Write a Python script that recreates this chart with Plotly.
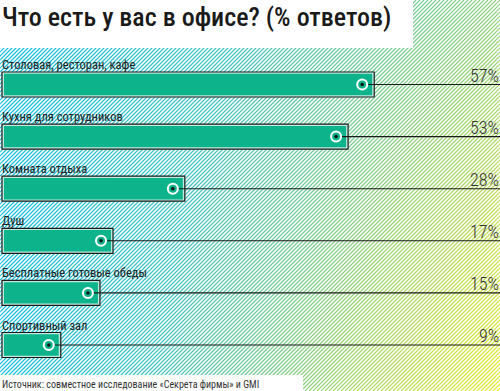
import plotly.graph_objects as go

categories = ["Столовая, ресторан, кафе", "Кухня для сотрудников", "Комната отдыха",
              "Душ", "Бесплатные готовые обеды", "Спортивный зал"]
values = [57, 53, 28, 17, 15, 9]
value_labels = ["57%", "53%", "28%", "17%", "15%", "9%"]
title_text = "Что есть у вас в офисе? (% ответов)"
source_text = "Источник: совместное исследование «Секрета фирмы» и GMI"

W, H = 500, 391
PX = 6.53          # pixels per percent
X0_PX = 2
xmin = -X0_PX / PX
xmax = (W - X0_PX) / PX
row0, rowstep = 84.5, 52.1
yrange = [(H - row0) / rowstep, -row0 / rowstep]

GREEN = "#0db48b"
NARROW = "Roboto Condensed, DejaVu Sans Condensed, sans-serif"

fig = go.Figure()

# ---------- background hatch on pixel axes (x, y) ----------
stops = [(0.0, (24, 190, 218)), (0.3, (70, 195, 190)), (0.55, (130, 205, 140)),
         (0.8, (190, 222, 90)), (1.0, (226, 234, 40))]

def col(t):
    t = max(0.0, min(1.0, t))
    for (t0, c0), (t1, c1) in zip(stops[:-1], stops[1:]):
        if t <= t1:
            f = (t - t0) / (t1 - t0)
            return "rgb(%d,%d,%d)" % tuple(round(a + (b - a) * f) for a, b in zip(c0, c1))
    return "rgb(%d,%d,%d)" % stops[-1][1]

def tval(x, y):
    return (x / W) * (0.6 + 0.4 * y / H)

NB = 40
bins = [([], []) for _ in range(NB + 1)]
SEG = 14.0
c = 0.0
while c <= W + H:
    # stripe: x + y = c, from (c, 0) down-left to (c - H, H)
    ys = 0.0
    while ys < H:
        ye = min(H, ys + SEG)
        xs, xe = c - ys, c - ye
        if max(xs, xe) >= -2 and min(xs, xe) <= W + 2:
            b = int(round(tval((xs + xe) / 2, (ys + ye) / 2) * NB))
            b = max(0, min(NB, b))
            bins[b][0].extend([xs, xe, None])
            bins[b][1].extend([ys, ye, None])
        ys = ye
    c += 4.0

for b, (bx, by) in enumerate(bins):
    if bx:
        fig.add_trace(go.Scatter(x=bx, y=by, mode="lines", xaxis="x", yaxis="y",
                                 line=dict(color=col(b / NB), width=1.15),
                                 hoverinfo="skip", showlegend=False))

# white masks where there is no hatch
for (x0, y0, x1, y1) in [(-5, -5, 413, 48), (-5, 375, 303, H + 5)]:
    fig.add_trace(go.Scatter(x=[x0, x1, x1, x0, x0], y=[y0, y0, y1, y1, y0], mode="lines",
                             fill="toself", fillcolor="white", line=dict(width=0),
                             xaxis="x", yaxis="y", hoverinfo="skip", showlegend=False))

# ---------- data on overlay axes (x2, y2) ----------
fig.add_trace(go.Bar(
    y=categories, x=values, orientation="h", width=0.48, xaxis="x2", yaxis="y2",
    marker=dict(color="#bfeadf", line=dict(color="#1a1a1a", width=1.2)),
    hoverinfo="skip", showlegend=False))
fig.add_trace(go.Bar(
    y=categories, x=[v - 4 / PX for v in values], base=2 / PX, orientation="h", width=0.41,
    xaxis="x2", yaxis="y2",
    marker=dict(color=GREEN, line=dict(width=0)),
    hoverinfo="skip", showlegend=False))

dot_x = [v - 12 / PX for v in values]
lx, ly = [], []
for cat, d in zip(categories, dot_x):
    lx += [d, xmax, None]
    ly += [cat, cat, None]
fig.add_trace(go.Scatter(x=lx, y=ly, mode="lines", xaxis="x2", yaxis="y2",
                         line=dict(color="#1a1a1a", width=1.1),
                         hoverinfo="skip", showlegend=False))
fig.add_trace(go.Scatter(x=dot_x, y=categories, mode="markers", xaxis="x2", yaxis="y2",
                         marker=dict(size=10, color=GREEN, line=dict(color="white", width=2)),
                         hoverinfo="skip", showlegend=False))
fig.add_trace(go.Scatter(x=dot_x, y=categories, mode="markers", xaxis="x2", yaxis="y2",
                         marker=dict(size=3.5, color="#111"),
                         hoverinfo="skip", showlegend=False))

for cat, t in zip(categories, value_labels):
    fig.add_annotation(x=1, y=cat, xref="paper", yref="y2", text=t, showarrow=False,
                       xanchor="right", yanchor="bottom", xshift=1, yshift=-3,
                       font=dict(family=NARROW, size=18, color="#333", weight=300))

for cat in categories:
    fig.add_annotation(x=0, y=cat, xref="x2", yref="y2", text=cat, showarrow=False,
                       xanchor="left", yanchor="middle", yshift=20, xshift=-2,
                       font=dict(family=NARROW, size=12.5, color="#222"))

fig.add_annotation(x=0, y=1 - 17 / H, xref="paper", yref="paper", text=title_text,
                   showarrow=False, xanchor="left", yanchor="middle",
                   font=dict(family=NARROW, size=26, color="#1a1a1a", weight=500))
fig.add_annotation(x=0, y=1 - 384 / H, xref="paper", yref="paper", text=source_text,
                   showarrow=False, xanchor="left", yanchor="middle",
                   font=dict(family=NARROW, size=10, color="#333"))

fig.update_layout(
    width=W, height=H, margin=dict(l=0, r=0, t=0, b=0),
    paper_bgcolor="white", plot_bgcolor="white",
    barmode="overlay", showlegend=False,
    xaxis=dict(range=[0, W], visible=False, fixedrange=True),
    yaxis=dict(range=[H, 0], visible=False, fixedrange=True),
    xaxis2=dict(range=[xmin, xmax], visible=False, fixedrange=True, overlaying="x"),
    yaxis2=dict(type="category", categoryorder="array", categoryarray=categories,
                range=yrange, visible=False, fixedrange=True, overlaying="y"),
)

fig.write_html("out.html", config={"displayModeBar": False},
               post_script="document.body.style.margin='0';document.body.style.padding='0';"
                           "document.body.style.overflow='hidden';")
